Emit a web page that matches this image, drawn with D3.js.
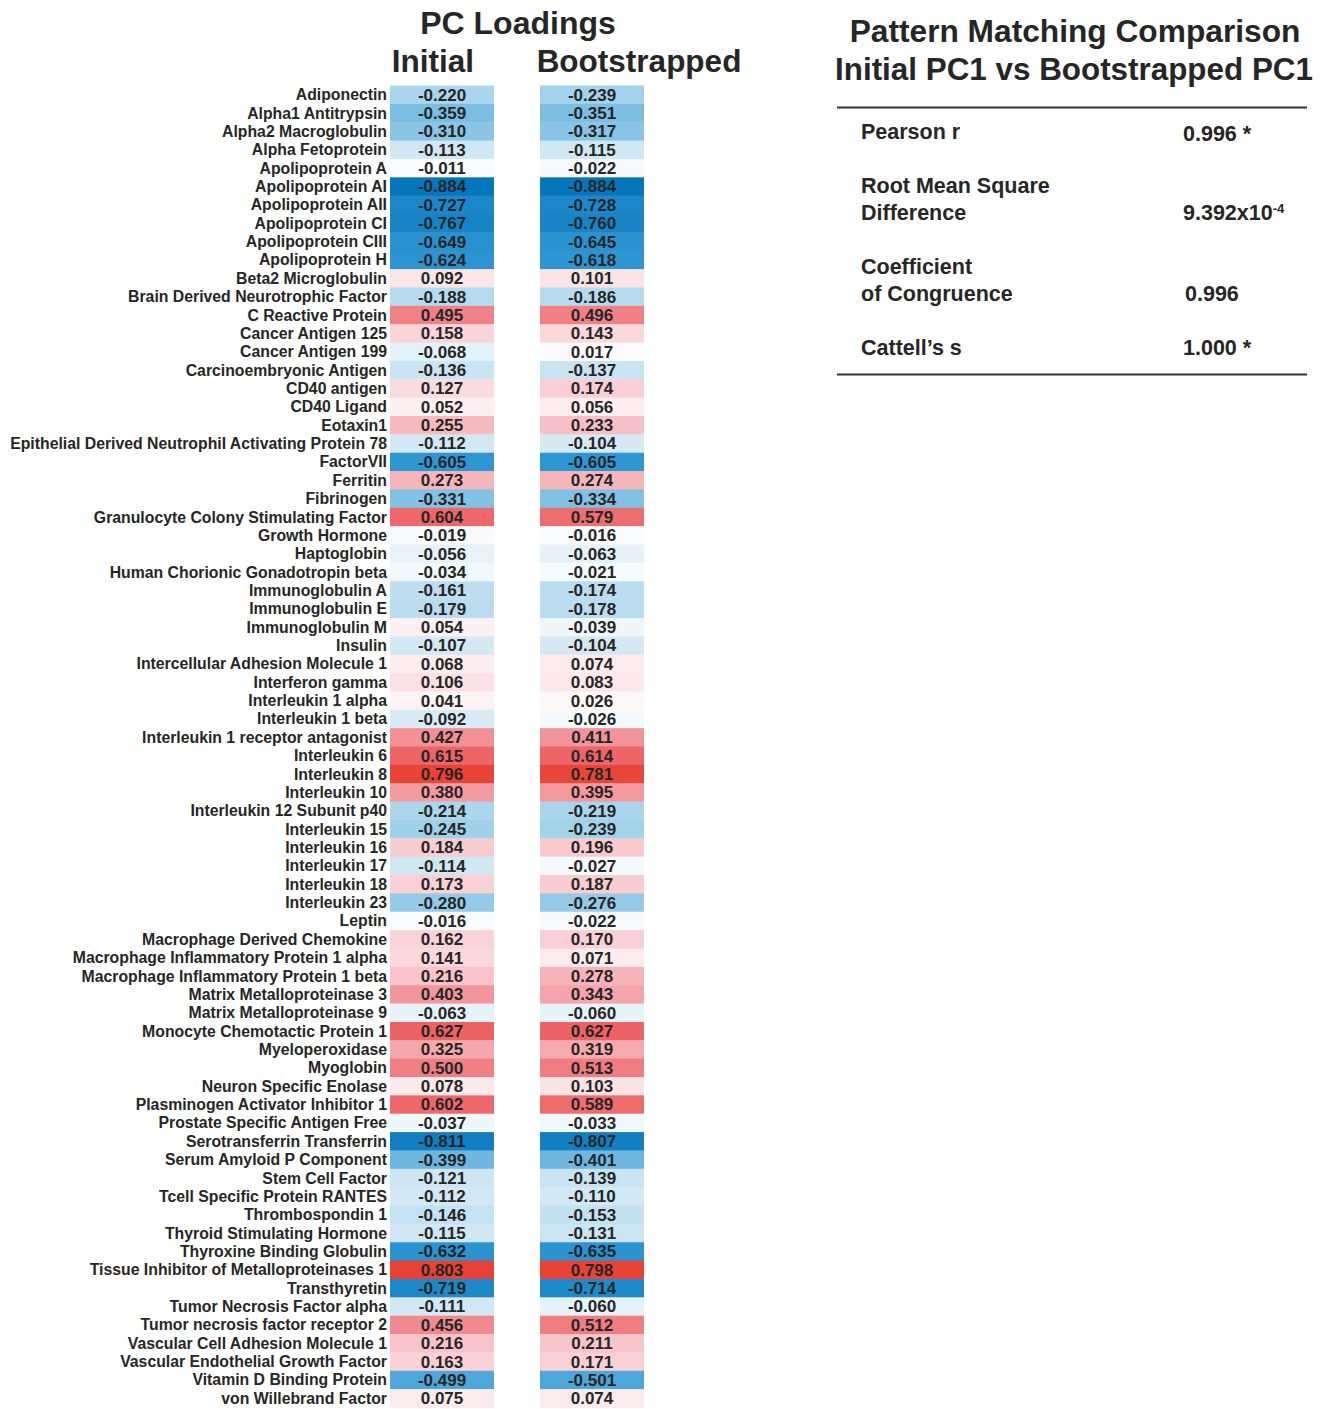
<!DOCTYPE html>
<html>
<head>
<meta charset="utf-8">
<script src="https://cdn.jsdelivr.net/npm/d3@7"></script>
<style>
  html, body { margin: 0; padding: 0; background: #fff; }
  svg { display: block; font-family: "Liberation Sans", Arial, sans-serif; }
</style>
</head>
<body>
<svg id="chart" width="1325" height="1409"></svg>
<script>
// Analytes (rows of the loading table)
const analytes = [
  "Adiponectin", "Alpha1 Antitrypsin", "Alpha2 Macroglobulin", "Alpha Fetoprotein",
  "Apolipoprotein A", "Apolipoprotein AI", "Apolipoprotein AII", "Apolipoprotein CI",
  "Apolipoprotein CIII", "Apolipoprotein H", "Beta2 Microglobulin",
  "Brain Derived Neurotrophic Factor", "C Reactive Protein", "Cancer Antigen 125",
  "Cancer Antigen 199", "Carcinoembryonic Antigen", "CD40 antigen", "CD40 Ligand",
  "Eotaxin1", "Epithelial Derived Neutrophil Activating Protein 78", "FactorVII",
  "Ferritin", "Fibrinogen", "Granulocyte Colony Stimulating Factor", "Growth Hormone",
  "Haptoglobin", "Human Chorionic Gonadotropin beta", "Immunoglobulin A",
  "Immunoglobulin E", "Immunoglobulin M", "Insulin", "Intercellular Adhesion Molecule 1",
  "Interferon gamma", "Interleukin 1 alpha", "Interleukin 1 beta",
  "Interleukin 1 receptor antagonist", "Interleukin 6", "Interleukin 8", "Interleukin 10",
  "Interleukin 12 Subunit p40", "Interleukin 15", "Interleukin 16", "Interleukin 17",
  "Interleukin 18", "Interleukin 23", "Leptin", "Macrophage Derived Chemokine",
  "Macrophage Inflammatory Protein 1 alpha", "Macrophage Inflammatory Protein 1 beta",
  "Matrix Metalloproteinase 3", "Matrix Metalloproteinase 9", "Monocyte Chemotactic Protein 1",
  "Myeloperoxidase", "Myoglobin", "Neuron Specific Enolase", "Plasminogen Activator Inhibitor 1",
  "Prostate Specific Antigen Free", "Serotransferrin Transferrin", "Serum Amyloid P Component",
  "Stem Cell Factor", "Tcell Specific Protein RANTES", "Thrombospondin 1",
  "Thyroid Stimulating Hormone", "Thyroxine Binding Globulin",
  "Tissue Inhibitor of Metalloproteinases 1", "Transthyretin", "Tumor Necrosis Factor alpha",
  "Tumor necrosis factor receptor 2", "Vascular Cell Adhesion Molecule 1",
  "Vascular Endothelial Growth Factor", "Vitamin D Binding Protein", "von Willebrand Factor"
];

// PC1 loadings, initial model
const initialLoadings = [
  -0.220, -0.359, -0.310, -0.113, -0.011, -0.884, -0.727, -0.767, -0.649, -0.624,
   0.092, -0.188,  0.495,  0.158, -0.068, -0.136,  0.127,  0.052,  0.255, -0.112,
  -0.605,  0.273, -0.331,  0.604, -0.019, -0.056, -0.034, -0.161, -0.179,  0.054,
  -0.107,  0.068,  0.106,  0.041, -0.092,  0.427,  0.615,  0.796,  0.380, -0.214,
  -0.245,  0.184, -0.114,  0.173, -0.280, -0.016,  0.162,  0.141,  0.216,  0.403,
  -0.063,  0.627,  0.325,  0.500,  0.078,  0.602, -0.037, -0.811, -0.399, -0.121,
  -0.112, -0.146, -0.115, -0.632,  0.803, -0.719, -0.111,  0.456,  0.216,  0.163,
  -0.499,  0.075
];

// PC1 loadings, bootstrapped model
const bootstrappedLoadings = [
  -0.239, -0.351, -0.317, -0.115, -0.022, -0.884, -0.728, -0.760, -0.645, -0.618,
   0.101, -0.186,  0.496,  0.143,  0.017, -0.137,  0.174,  0.056,  0.233, -0.104,
  -0.605,  0.274, -0.334,  0.579, -0.016, -0.063, -0.021, -0.174, -0.178, -0.039,
  -0.104,  0.074,  0.083,  0.026, -0.026,  0.411,  0.614,  0.781,  0.395, -0.219,
  -0.239,  0.196, -0.027,  0.187, -0.276, -0.022,  0.170,  0.071,  0.278,  0.343,
  -0.060,  0.627,  0.319,  0.513,  0.103,  0.589, -0.033, -0.807, -0.401, -0.139,
  -0.110, -0.153, -0.131, -0.635,  0.798, -0.714, -0.060,  0.512,  0.211,  0.171,
  -0.501,  0.074
];

const columns = ["Initial", "Bootstrapped"];

// Comparison statistics
const statLabels = [["Pearson r"], ["Root Mean Square", "Difference"], ["Coefficient", "of Congruence"], ["Cattell\u2019s s"]];
const statValues = ["0.996 *", "9.392x10", "0.996", "1.000 *"];

const svg = d3.select("#chart");
const ink = "#262626";

const fmt = d3.formatLocale({ decimal: ".", thousands: ",", grouping: [3], currency: ["$", ""], minus: "-" }).format(".3f");

const y = d3.scaleBand().domain(analytes).range([85.5, 1407.5]).padding(0);
const x = d3.scaleBand().domain(columns).range([390, 644]).paddingInner(0.3067).paddingOuter(0);

const color = d3.scaleLinear()
  .domain([-0.9, -0.6, -0.3, -0.1, 0, 0.1, 0.3, 0.6, 0.82])
  .range(["#0474bb", "#2f97d3", "#8cc7e6", "#d6eaf5", "#ffffff", "#fbe3e6", "#f5aeb4", "#ee686b", "#e83f30"])
  .clamp(true);

const rows = analytes.map((name, i) => ({ name, values: [initialLoadings[i], bootstrappedLoadings[i]] }));

// Row labels
svg.append("g")
  .selectAll("text")
  .data(rows)
  .join("text")
  .attr("x", 387)
  .attr("y", d => y(d.name) + y.bandwidth() / 2)
  .attr("dy", "0.35em")
  .attr("text-anchor", "end")
  .attr("font-size", 15.8)
  .attr("font-weight", "bold")
  .attr("fill", ink)
  .text(d => d.name);

// Heatmap cells and values
const cells = svg.append("g")
  .selectAll("g")
  .data(rows.flatMap(r => columns.map((c, j) => ({ name: r.name, col: c, v: r.values[j] }))))
  .join("g");

cells.append("rect")
  .attr("x", d => x(d.col))
  .attr("y", d => y(d.name))
  .attr("width", x.bandwidth())
  .attr("height", y.bandwidth() + 0.5)
  .attr("fill", d => color(d.v));

cells.append("text")
  .attr("x", d => x(d.col) + x.bandwidth() / 2)
  .attr("y", d => y(d.name) + y.bandwidth() / 2)
  .attr("dy", "0.35em")
  .attr("text-anchor", "middle")
  .attr("font-size", 17)
  .attr("font-weight", "bold")
  .attr("fill", ink)
  .text(d => fmt(d.v));

// Heatmap headings
svg.append("text")
  .attr("x", 518).attr("y", 34)
  .attr("text-anchor", "middle")
  .attr("font-size", 32).attr("font-weight", "bold").attr("fill", ink)
  .text("PC Loadings");

const headX = { Initial: 433, Bootstrapped: 639 };
svg.append("g")
  .selectAll("text")
  .data(columns)
  .join("text")
  .attr("x", d => headX[d])
  .attr("y", 72)
  .attr("text-anchor", "middle")
  .attr("font-size", 31.5).attr("font-weight", "bold").attr("fill", ink)
  .text(d => d);

// Comparison table
const tbl = svg.append("g");
tbl.append("text")
  .attr("x", 1075).attr("y", 42)
  .attr("text-anchor", "middle")
  .attr("font-size", 31.7).attr("font-weight", "bold").attr("fill", ink)
  .text("Pattern Matching Comparison");
tbl.append("text")
  .attr("x", 1074).attr("y", 80)
  .attr("text-anchor", "middle")
  .attr("font-size", 31.4).attr("font-weight", "bold").attr("fill", ink)
  .text("Initial PC1 vs Bootstrapped PC1");

tbl.append("line").attr("x1", 837).attr("x2", 1307).attr("y1", 107.5).attr("y2", 107.5)
  .attr("stroke", "#333").attr("stroke-width", 2);
tbl.append("line").attr("x1", 837).attr("x2", 1307).attr("y1", 374.5).attr("y2", 374.5)
  .attr("stroke", "#333").attr("stroke-width", 2);

const statRowTop = [131, 185, 266, 347];
const statValueY = [133, 212, 293, 347];
const statValueX = [1183, 1183, 1185, 1183];

statLabels.forEach((lines, i) => {
  lines.forEach((ln, k) => {
    tbl.append("text")
      .attr("x", 861).attr("y", statRowTop[i] + k * 27)
      .attr("dy", "0.36em")
      .attr("font-size", 21.5).attr("font-weight", "bold").attr("fill", ink)
      .text(ln);
  });
  const t = tbl.append("text")
    .attr("x", statValueX[i]).attr("y", statValueY[i])
    .attr("dy", "0.36em")
    .attr("font-size", 21.5).attr("font-weight", "bold").attr("fill", ink)
    .text(statValues[i]);
  if (i === 1) {
    t.append("tspan").attr("dy", "-0.55em").attr("font-size", 13).text("-4");
  }
});
</script>
</body>
</html>
